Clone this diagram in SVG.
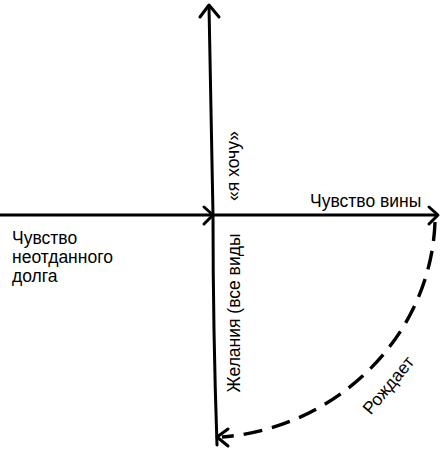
<svg xmlns="http://www.w3.org/2000/svg" width="442" height="452" viewBox="0 0 442 452">
<style>
.ax{fill:none;stroke:#000;stroke-width:3;stroke-linecap:round;stroke-linejoin:round}
.dash{fill:none;stroke:#000;stroke-width:3.4;stroke-dasharray:19 10}
.t{font-family:"Liberation Sans",Arial,sans-serif;font-size:17.5px;fill:#000}
</style>
<rect width="442" height="452" fill="#fff"/>
<g id="connectors">
<path class="ax" d="M217,445 Q213,330 213,215 Q211,110 209,6"/>
<path class="ax" d="M200,17 L209,5 L219,17"/>
<path class="ax" d="M0,215 L213,215"/>
<path class="ax" d="M204,207 L213,215 L204,224"/>
<path class="ax" d="M213,215 L437,215"/>
<path class="ax" d="M429,207 L438,215 L429,224"/>
<path class="dash" d="M435,222 C431,335 338,428 222,437"/>
<path class="ax" d="M228,429 L217,437 L228,446"/>
</g>
<g id="label-hochu"><text class="t" transform="translate(239,166) rotate(-90)" text-anchor="middle">«я хочу»</text></g>
<g id="label-vina"><text class="t" x="310" y="207">Чувство вины</text></g>
<g id="label-dolg"><text class="t" x="12" y="244">Чувство</text><text class="t" x="12" y="263">неотданного</text><text class="t" x="12" y="282">долга</text></g>
<g id="label-zhelania"><text class="t" transform="translate(240,313) rotate(-90)" text-anchor="middle">Желания (все виды</text></g>
<g id="label-rozhdaet"><text class="t" transform="translate(393,389) rotate(-50)" text-anchor="middle">Рождает</text></g>
</svg>
